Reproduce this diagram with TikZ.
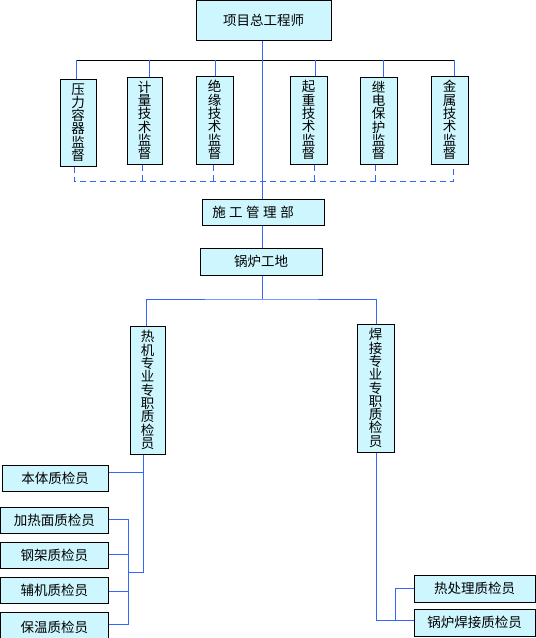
\documentclass[tikz,border=0pt]{standalone}
\usepackage{fontspec}
\newfontfamily\cjk{Noto Sans CJK SC}
\definecolor{boxfill}{RGB}{206,246,255}
\definecolor{linkblue}{RGB}{51,102,255}
\lineskiplimit=-20pt
\begin{document}
\begin{tikzpicture}[x=1pt,y=-1pt,
  box/.style={draw=black, line width=1pt, fill=boxfill, inner sep=0pt,
    font=\cjk\fontsize{13.5}{13.3}\selectfont, align=center},
  link/.style={draw=linkblue, line width=1pt},
  dlink/.style={link, dash pattern=on 6pt off 4pt},
  bar/.style={draw=black, line width=1pt}]
\useasboundingbox (0,0) rectangle (536,638);
% nodes
\node[box, minimum width=135pt, minimum height=39.5pt] (top) at (263.5,20.25) {项目总工程师};
\node[box, minimum width=36pt, minimum height=87pt] (b1) at (78,122.5) {压\\力\\容\\器\\监\\督};
\node[box, minimum width=35pt, minimum height=87pt] (b2) at (144.5,120.5) {计\\量\\技\\术\\监\\督};
\node[box, minimum width=37pt, minimum height=88pt] (b3) at (214.5,120) {绝\\缘\\技\\术\\监\\督};
\node[box, minimum width=37pt, minimum height=88pt] (b4) at (308.5,120) {起\\重\\技\\术\\监\\督};
\node[box, minimum width=37pt, minimum height=87pt] (b5) at (378.5,120.5) {继\\电\\保\\护\\监\\督};
\node[box, minimum width=37pt, minimum height=88pt] (b6) at (449.5,120) {金\\属\\技\\术\\监\\督};
\node[box, minimum width=122pt, minimum height=26pt] (sg) at (263,212) {施\hspace{3.5pt}工\hspace{3.5pt}管\hspace{3.5pt}理\hspace{3.5pt}部\hspace{20pt}};
\node[box, minimum width=122pt, minimum height=27pt] (gl) at (261,261.5) {锅炉工地};
\node[box, minimum width=35pt, minimum height=128pt] (rj) at (147.5,390) {热\\机\\专\\业\\专\\职\\质\\检\\员};
\node[box, minimum width=37pt, minimum height=128pt] (hj) at (375.5,388) {焊\\接\\专\\业\\专\\职\\质\\检\\员};
\node[box, minimum width=106pt, minimum height=26pt] (bt) at (55,478) {本体质检员};
\node[box, minimum width=107.5pt, minimum height=26pt] (jr) at (54.25,520) {加热面质检员};
\node[box, minimum width=107.5pt, minimum height=26pt] (gj) at (54.25,555) {钢架质检员};
\node[box, minimum width=107.5pt, minimum height=26pt] (fj) at (54.25,590) {辅机质检员};
\node[box, minimum width=107.5pt, minimum height=30pt] (bw) at (54.25,627) {保温质检员};
\node[box, minimum width=121pt, minimum height=27pt] (rc) at (474.5,588.5) {热处理质检员};
\node[box, minimum width=121pt, minimum height=27pt] (gh) at (474.5,622.5) {锅炉焊接质检员};
% helper coordinates
\coordinate (busL) at (76,60);
\coordinate (busR) at (454,60);
\coordinate (dl) at (74,181);
\coordinate (split) at (262,299);
\coordinate (lj) at (143.5,572);
\coordinate (lb) at (128,572);
\coordinate (rb) at (395,620);
% top bus
\draw[bar] (busL) -- (busR);
\foreach \n/\s in {b1/-2, b2/4.5, b3/0.5, b4/6.5, b5/4.5, b6/4.5}
  \draw[link] ([xshift=\s pt]\n.north) -- ([xshift=\s pt]\n.north |- busL);
% dashed bus
\draw[dlink] ([xshift=-4pt]b1.south) |- (dl) -| ([xshift=3.5pt]b6.south);
\foreach \n/\s in {b2/-2.5, b3/-1.5, b4/5.5, b5/-3.5}
  \draw[dlink] ([xshift=\s pt]\n.south) -- ([xshift=\s pt]\n.south |- dl);
% main spine
\draw[link] ([xshift=-1.5pt]top.south) -- ([xshift=-1.5pt]top.south |- sg.north);
\draw[link] ([xshift=-1pt]sg.south) -- ([xshift=-1pt]sg.south |- gl.north);
\draw[link] ([xshift=1pt]gl.south) -- ([xshift=1pt]gl.south |- split);
\draw[link] ([xshift=-1.5pt]rj.north) |- (split) -| ([xshift=0.5pt]hj.north);
% left branch
\draw[link] ([xshift=-4pt]rj.south) |- (lb);
\draw[link] ([yshift=6pt]bt.east) -- ([yshift=6pt]bt.east -| lj);
\draw[link] ([yshift=1pt]jr.east) -| ([yshift=3pt]bw.east -| lb) -- ([yshift=3pt]bw.east);
\draw[link] ([yshift=1pt]gj.east) -- ([yshift=1pt]gj.east -| lb);
\draw[link] ([yshift=-1pt]fj.east) -- ([yshift=-1pt]fj.east -| lb);
% right branch
\draw[link] ([xshift=0.5pt]hj.south) |- ([yshift=2.5pt]gh.west);
\draw[link] (rb) |- (rc.west);
\end{tikzpicture}
\end{document}
